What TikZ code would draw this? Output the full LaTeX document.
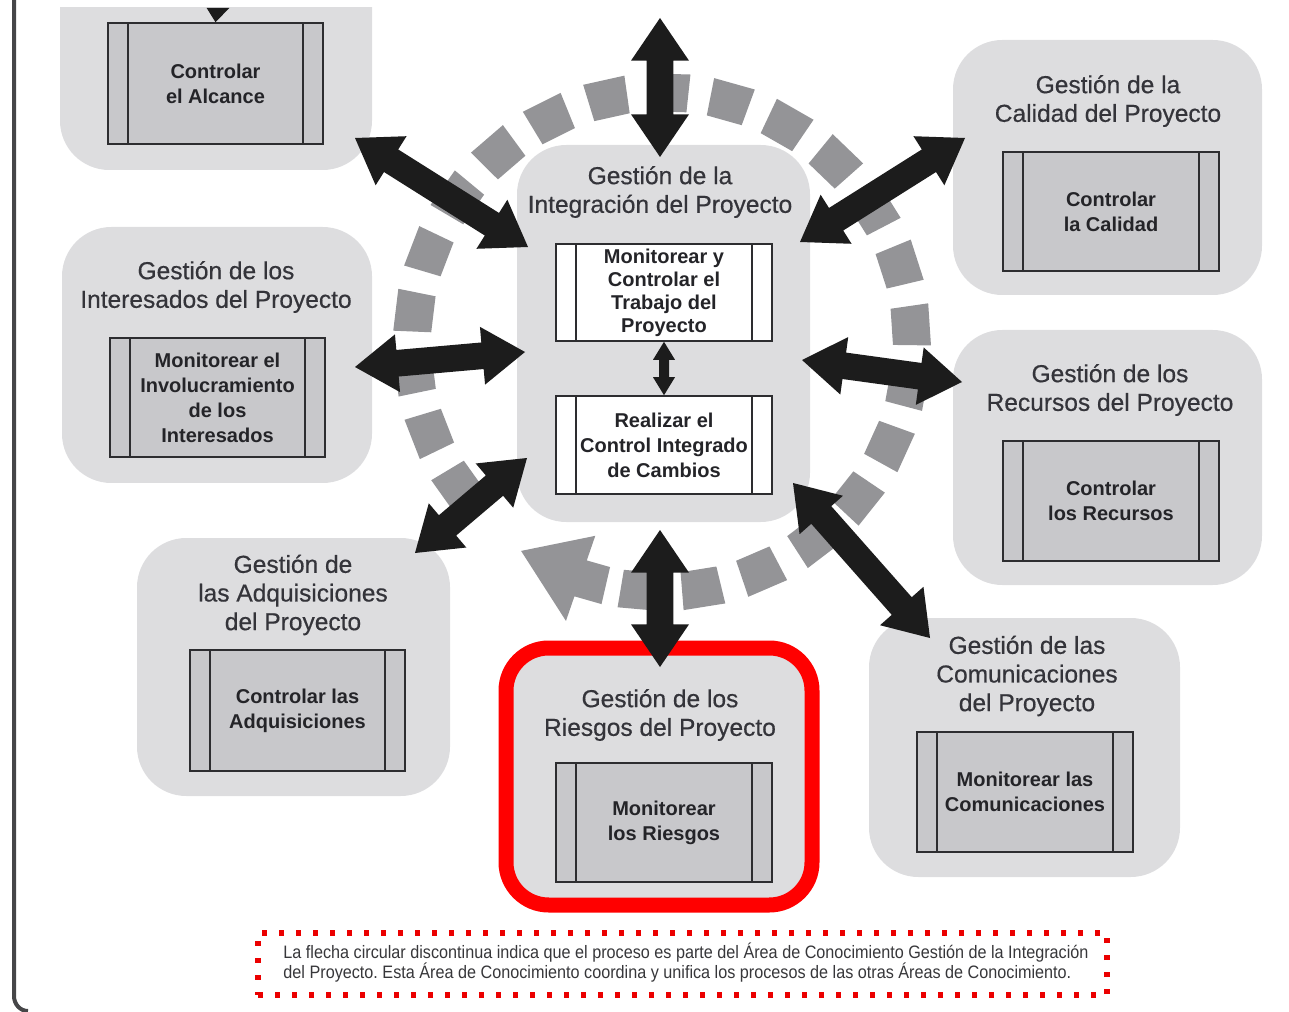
\documentclass[tikz,border=0pt]{standalone}
\usepackage{fontspec}
\setmainfont{Liberation Sans}
\newfontfamily\notefont[FakeStretch=0.9]{Liberation Sans}
\newfontfamily\titlefont[FakeBold=0.5]{Liberation Sans}
\usetikzlibrary{calc}
\frenchspacing

\definecolor{panelgray}{RGB}{221,221,223}
\definecolor{boxgray}{RGB}{200,200,203}
\definecolor{boxline}{RGB}{45,45,48}
\definecolor{ringgray}{RGB}{148,148,151}
\definecolor{arrowblack}{RGB}{28,28,28}
\definecolor{titletext}{RGB}{52,52,58}
\definecolor{boxtext}{RGB}{36,36,40}
\definecolor{framegray}{RGB}{70,70,72}
\definecolor{riskred}{RGB}{255,0,0}
\definecolor{notered}{RGB}{235,0,0}
\definecolor{notetext}{RGB}{55,55,58}

\tikzset{
  sz/.style 2 args={minimum width=#1*0.75pt, minimum height=#2*0.75pt},
  panel/.style={fill=panelgray, rounded corners=37pt, inner sep=0pt, outer sep=0pt},
  procbox/.style={draw=boxline, line width=1.2pt, fill=boxgray, inner sep=0pt,
    align=center, text=boxtext, font=\fontsize{15}{18.75}\selectfont\bfseries,
    path picture={
      \draw[boxline, line width=1.2pt]
        ([xshift=15pt]path picture bounding box.north west) --
        ([xshift=15pt]path picture bounding box.south west);
      \draw[boxline, line width=1.2pt]
        ([xshift=-15pt]path picture bounding box.north east) --
        ([xshift=-15pt]path picture bounding box.south east);
    }},
  paneltitle/.style={align=center, inner sep=0pt, text=titletext,
    font=\titlefont\fontsize{18.4}{21.5}\selectfont},
}

% filled double-headed arrow: ends, head length, half head width, half shaft width
\newcommand\dblarrow[5]{%
  \coordinate (da1) at ($(#1)!#3!(#2)$);
  \coordinate (da2) at ($(#2)!#3!(#1)$);
  \fill[arrowblack] (#1) -- ($(da1)!#4!90:(#2)$) -- ($(da1)!#5!90:(#2)$)
    -- ($(da2)!#5!-90:(#1)$) -- ($(da2)!#4!-90:(#1)$) -- (#2)
    -- ($(da2)!#4!90:(#1)$) -- ($(da2)!#5!90:(#1)$)
    -- ($(da1)!#5!-90:(#2)$) -- ($(da1)!#4!-90:(#2)$) -- cycle;}

\begin{document}
\begin{tikzpicture}[x=0.75pt,y=-0.75pt]
\useasboundingbox (0,0) rectangle (1289,1012);

% page frame on the left
\draw[framegray, line width=3pt] (14,0) -- (14,996) to[out=-90,in=180] (28,1011);

% knowledge area panels
\begin{scope}
  \clip (0,8) rectangle (1289,1012);
  \node[panel, sz={312}{270}] (alcance) at (216,35) {};
\end{scope}
\node[panel, sz={293}{377}] (integ) at (663.5,333.5) {};
\node[panel, sz={309}{255}] (calidad) at (1107.5,167.5) {};
\node[panel, sz={310}{256}] (interes) at (217,355) {};
\node[panel, sz={309}{255}] (recursos) at (1107.5,457.5) {};
\node[panel, sz={313}{258}] (adquis) at (293.5,667) {};
\node[panel, sz={311}{259}] (comunic) at (1024.5,747.5) {};
\node[panel, sz={306}{257}, draw=riskred, line width=11.25pt, rounded corners=32pt] (riesgos) at (659,776.5) {};

% panel titles
\node[paneltitle] (integt) at (660,192) {Gestión de la\\Integración del Proyecto};
\node[paneltitle] (calidadt) at (1108,101) {Gestión de la\\Calidad del Proyecto};
\node[paneltitle] (interest) at (216,287) {Gestión de los\\Interesados del Proyecto};
\node[paneltitle] (recursost) at (1110,390) {Gestión de los\\Recursos del Proyecto};
\node[paneltitle] (adquist) at (293,595) {Gestión de\\las Adquisiciones\\del Proyecto};
\node[paneltitle] (riesgost) at (660,715) {Gestión de los\\Riesgos del Proyecto};
\node[paneltitle] (comunict) at (1027,676) {Gestión de las\\Comunicaciones\\del Proyecto};

% process boxes
\node[procbox, sz={215}{121}] (alcbox) at (215.5,83.5) {Controlar\\el Alcance};
\node[procbox, sz={216}{97}, fill=white, font=\fontsize{15}{17.25}\selectfont\bfseries] (trabajo) at (664,292.5) {Monitorear y\\Controlar el\\Trabajo del\\Proyecto};
\node[procbox, sz={216}{98}, fill=white] (cambios) at (664,445) {Realizar el\\Control Integrado\\de Cambios};
\node[procbox, sz={216}{119}] (calbox) at (1111,211.5) {Controlar\\la Calidad};
\node[procbox, sz={215}{119}] (intbox) at (217.5,397.5) {Monitorear el\\Involucramiento\\de los\\Interesados};
\node[procbox, sz={216}{120}] (recbox) at (1111,501) {Controlar\\los Recursos};
\node[procbox, sz={215}{121}] (adqbox) at (297.5,710.5) {Controlar las\\Adquisiciones};
\node[procbox, sz={216}{119}] (riebox) at (664,822.5) {Monitorear\\los Riesgos};
\node[procbox, sz={216}{120}] (combox) at (1025,792) {Monitorear las\\Comunicaciones};

% dashed circular arrow of integration
\begin{scope}[shift={(662,342)}]
  \foreach \k in {0,...,22}{
    \pgfmathsetmacro\aL{-(265+14.11*\k-4.5)}
    \pgfmathsetmacro\aR{-(265+14.11*\k+4.5)}
    \fill[ringgray] (\aL:231) -- (\aL:269) -- (\aR:269) -- (\aR:231) -- cycle;
  }
  \fill[ringgray] (-257:231) -- (-251:231) -- (-251:205) -- (-236:252)
    -- (-251:295) -- (-251:269) -- (-257:269) -- cycle;
\end{scope}

% arrow ends
\coordinate (a1) at (660,18);   \coordinate (a2) at (660,157);
\coordinate (b1) at (660,530);  \coordinate (b2) at (660,667);
\coordinate (c1) at (355,138);  \coordinate (c2) at (528,247);
\coordinate (d1) at (355,367);  \coordinate (d2) at (525,352);
\coordinate (e1) at (527,458);  \coordinate (e2) at (415,553);
\coordinate (f1) at (965,138);  \coordinate (f2) at (800,242);
\coordinate (g1) at (802,360);  \coordinate (g2) at (962,382);
\coordinate (h1) at (793,483);  \coordinate (h2) at (930,638);
\coordinate (alcin) at (218,8);

% exchanges between the areas
\dblarrow{a1}{a2}{32pt}{21.75pt}{10pt}
\dblarrow{b1}{b2}{32pt}{21.75pt}{10pt}
\dblarrow{c1}{c2}{32pt}{21.75pt}{10pt}
\dblarrow{d1}{d2}{32pt}{21.75pt}{10pt}
\dblarrow{e1}{e2}{32pt}{21.75pt}{10pt}
\dblarrow{f1}{f2}{32pt}{21.75pt}{10pt}
\dblarrow{g1}{g2}{32pt}{21.75pt}{10pt}
\dblarrow{h1}{h2}{32pt}{21.75pt}{10pt}
\dblarrow{trabajo.south}{cambios.north}{13.5pt}{8.25pt}{3.75pt}

% incoming arrow into the scope control box
\fill[arrowblack] ([xshift=-8.5pt]alcin) -- ([xshift=8.5pt]alcin) -- (alcbox.north) -- cycle;

% explanatory note
\node[draw=notered, line width=4pt, dash pattern=on 4pt off 8.75pt, sz={849}{62}, inner sep=0pt] (note) at (682.5,964) {};
\node[font=\notefont\fontsize{13.5}{15}\selectfont, text=notetext, align=left, inner sep=0pt] (notetext) at (686,963)
  {La flecha circular discontinua indica que el proceso es parte del Área de Conocimiento Gestión de la Integración\\
   del Proyecto. Esta Área de Conocimiento coordina y unifica los procesos de las otras Áreas de Conocimiento.};
\end{tikzpicture}
\end{document}
